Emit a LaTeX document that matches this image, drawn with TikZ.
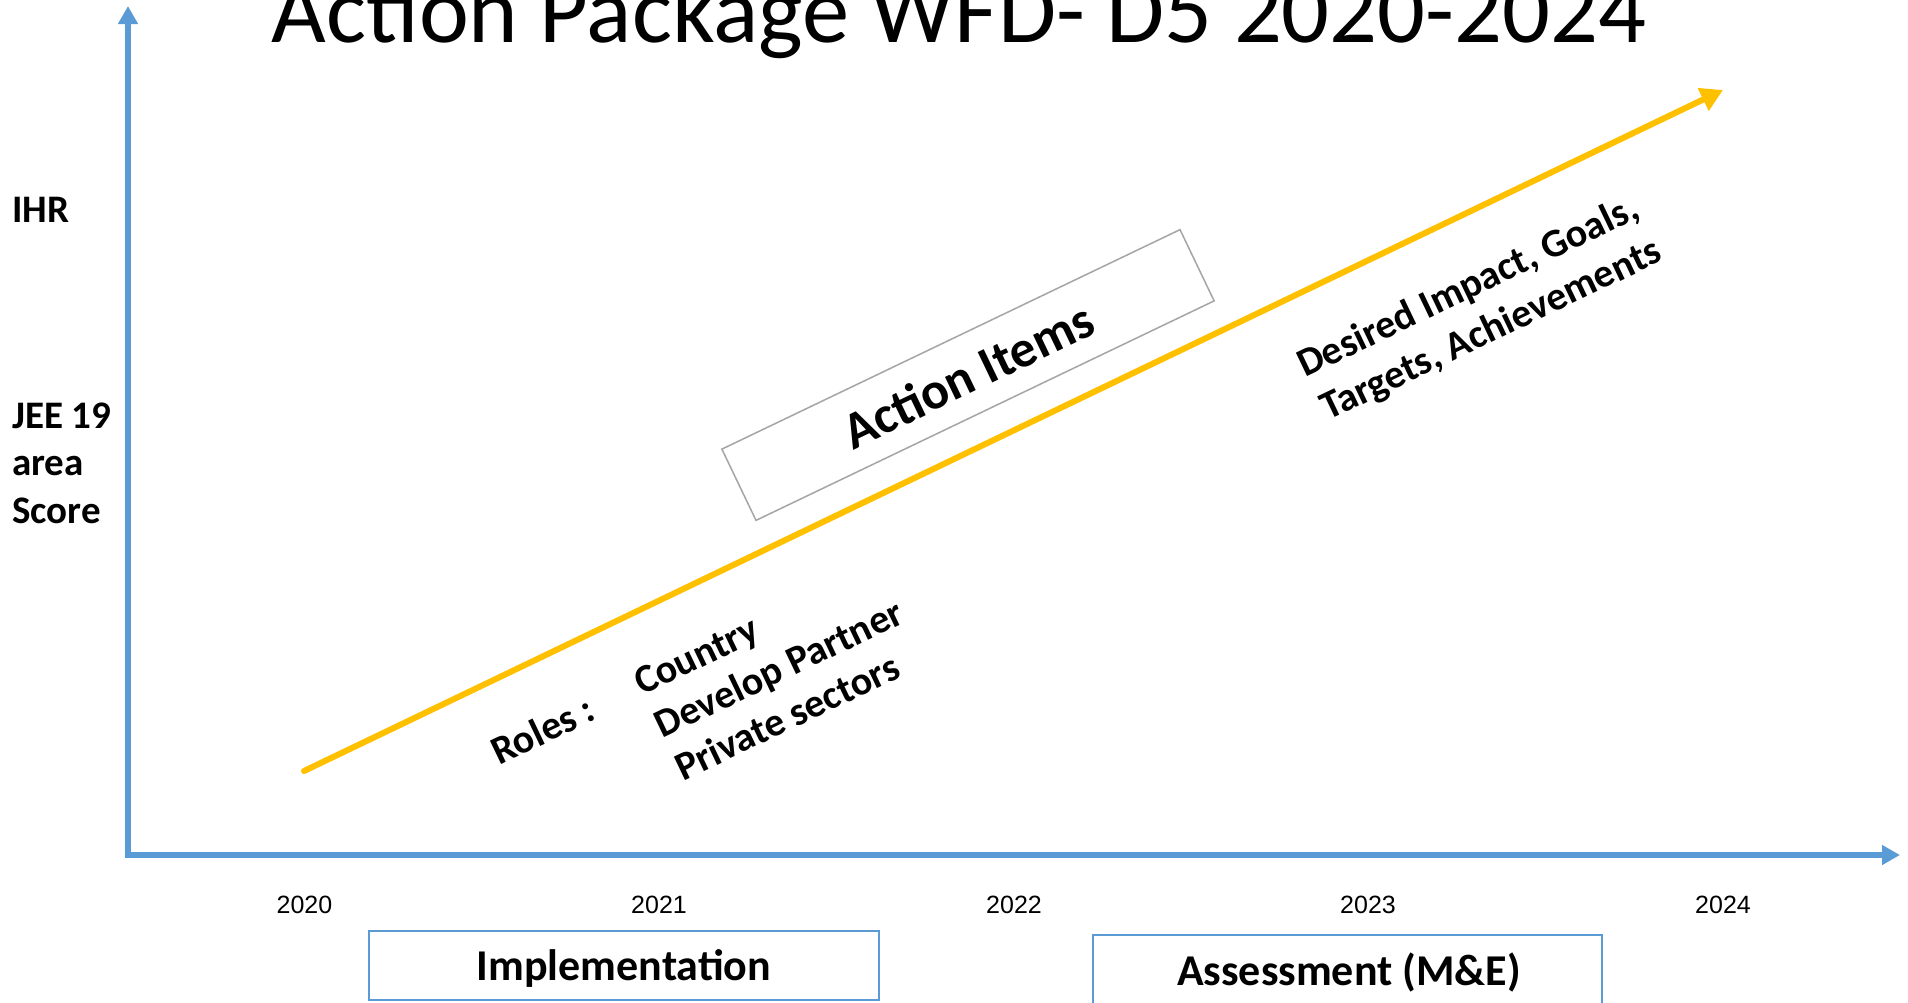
\documentclass[tikz,border=0pt]{standalone}
\usepackage{fontspec}
\setmainfont{Carlito}
\newfontfamily\arialfont{Liberation Sans}
\usetikzlibrary{arrows.meta}
\definecolor{axisblue}{HTML}{5B9BD5}
\definecolor{arrowyellow}{HTML}{FFC000}
\definecolor{boxgray}{HTML}{A5A5A5}
\begin{document}
\begin{tikzpicture}[x=1pt,y=-1pt,
  lbl/.style={inner sep=0pt, anchor=base west, font=\bfseries\fontsize{39}{46}\selectfont},
  rotlbl/.style={inner sep=0pt, anchor=base west, rotate=25.6, font=\bfseries\fontsize{40}{48}\selectfont},
  yearlbl/.style={inner sep=0pt, anchor=base, font=\arialfont\fontsize{25}{30}\selectfont},
  phasebox/.style={draw=axisblue, line width=1.5pt, inner sep=0pt},
  phasetext/.style={inner sep=0pt, anchor=base, font=\bfseries\fontsize{44}{50}\selectfont}]
\clip (0,0) rectangle (1908,1002);
\fill[white] (0,0) rectangle (1908,1002);

% title
\node[inner sep=0pt, anchor=base, font=\fontsize{94.5}{110}\selectfont] (title) at (959,42) {Action Package WFD- D5 2020-2024};

% axes
\coordinate (origin) at (128,855);
\coordinate (ytip) at (128,6);
\coordinate (xtip) at (1900,855);
\draw[axisblue, line width=6pt, {Triangle[length=18pt,width=19pt]}-{Triangle[length=18pt,width=19pt]}] (ytip) -- (origin) -- (xtip);

% trend arrow
\coordinate (ys) at (304,771);
\coordinate (ye) at (1723,90);
\draw[arrowyellow, line width=6pt, line cap=round, -{Triangle[length=22pt,width=24pt]}] (ys) -- (ye);

% action items box
\node[draw=boxgray, line width=1.5pt, minimum width=508pt, minimum height=79pt, rotate=25.6, inner sep=0pt, font=\bfseries\fontsize{52}{60}\selectfont] (action) at (968,375) {Action Items};

% left labels
\node[lbl] (ihr) at (12,222) {IHR};
\node[lbl] (jee) at (12,428) {JEE 19};
\node[lbl] (area) at (12,475.5) {area};
\node[lbl] (score) at (12,523) {Score};

% roles
\node[rotlbl] (roles) at (499,766) {Roles :};
\node[rotlbl] (country) at (642,696) {Country};
\node[rotlbl] (develop) at (662.5,738.8) {Develop Partner};
\node[rotlbl] (private) at (683,781.5) {Private sectors};

% desired impact
\node[rotlbl] (desired) at (1305,378) {Desired Impact, Goals,};
\node[rotlbl] (targets) at (1328,421) {Targets, Achievements};

% years
\node[yearlbl] (y2020) at (304.5,913) {2020};
\node[yearlbl] (y2021) at (659,913) {2021};
\node[yearlbl] (y2022) at (1014,913) {2022};
\node[yearlbl] (y2023) at (1368,913) {2023};
\node[yearlbl] (y2024) at (1723,913) {2024};

% phases
\node[phasebox, minimum width=510pt, minimum height=69pt] (impl) at (624,965.5) {};
\node[phasetext] (impltext) at (624,980) {Implementation};
\node[phasebox, minimum width=509pt, minimum height=75pt] (assess) at (1347.5,972.5) {};
\node[phasetext] (assesstext) at (1349,985) {Assessment (M\&E)};
\end{tikzpicture}
\end{document}
